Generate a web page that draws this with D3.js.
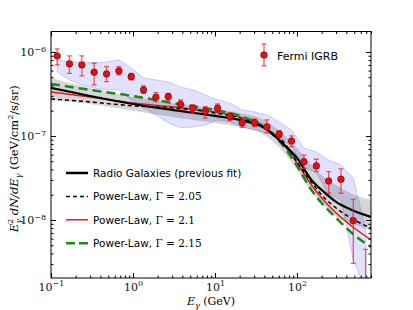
<!DOCTYPE html>
<html>
<head>
<meta charset="utf-8">
<script src="https://cdn.jsdelivr.net/npm/d3@7"></script>
<style>
  body { margin: 0; background: #fff; }
  .tick text { font-family: "DejaVu Serif", serif; }
</style>
</head>
<body>
<div class="chart"></div>
<script>
let svgWidth = 413;
let svgHeight = 310;

let margin = { top: 31.5, right: 42, bottom: 32, left: 51 };
let width = svgWidth - margin.left - margin.right;
let height = svgHeight - margin.top - margin.bottom;

// Fermi IGRB points
const igrbE = [0.119, 0.168, 0.238, 0.336, 0.476, 0.673, 0.951, 1.345, 1.902, 2.69, 3.80, 5.38, 7.61,
    10.76, 15.21, 21.5, 30.4, 43.0, 60.8, 86.0, 121.7, 172.1, 243.4, 344.2, 486.7, 688.3];
const igrbFlux = [8.96e-7, 7.20e-7, 7.0e-7, 5.73e-7, 5.47e-7, 5.94e-7, 5.08e-7, 3.53e-7, 2.89e-7, 2.94e-7,
    2.38e-7, 2.14e-7, 1.95e-7, 2.14e-7, 1.70e-7, 1.44e-7, 1.44e-7, 1.28e-7, 1.05e-7, 8.71e-8,
    4.94e-8, 4.40e-8, 2.91e-8, 3.05e-8, 9.8e-9, 1.5e-9];
const igrbHi = [1.086e-6, 8.96e-7, 8.96e-7, 7.33e-7, 6.68e-7, 6.68e-7, 5.57e-7, 3.94e-7, 3.28e-7, 3.22e-7,
    2.68e-7, 2.34e-7, 2.23e-7, 2.40e-7, 1.89e-7, 1.63e-7, 1.58e-7, 1.55e-7, 1.16e-7, 1.0e-7,
    5.94e-8, 5.28e-8, 3.76e-8, 4.05e-8, 1.76e-8, 4.48e-9];
const igrbLo = [7.0e-7, 5.57e-7, 5.18e-7, 4.05e-7, 4.43e-7, 5.32e-7, 4.64e-7, 3.22e-7, 2.56e-7, 2.68e-7,
    2.04e-7, 1.88e-7, 1.63e-7, 1.88e-7, 1.52e-7, 1.27e-7, 1.29e-7, 1.09e-7, 9.55e-8, 7.47e-8,
    4.12e-8, 3.76e-8, 2.08e-8, 2.08e-8, 3.05e-9, 1e-10];

// systematic band of the IGRB (blue)
const sysHi = [8.03e-7, 7.60e-7, 7.60e-7, 7.40e-7, 7.60e-7, 8.03e-7, 6.45e-7, 4.90e-7, 4.64e-7, 4.40e-7,
    3.83e-7, 3.53e-7, 3.08e-7, 2.68e-7, 2.47e-7, 2.04e-7, 1.93e-7, 1.78e-7, 1.47e-7, 1.18e-7,
    7.20e-8, 6.45e-8, 5.18e-8, 4.52e-8, 3.16e-8, 7.60e-9];
const sysLo = [5.78e-7, 4.64e-7, 4.05e-7, 3.73e-7, 3.53e-7, 3.53e-7, 2.68e-7, 2.16e-7, 1.78e-7, 1.43e-7,
    1.25e-7, 1.28e-7, 1.35e-7, 1.55e-7, 1.47e-7, 1.28e-7, 1.18e-7, 1.09e-7, 9.47e-8, 7.60e-8,
    4.16e-8, 3.73e-8, 1.99e-8, 1.73e-8, 3.34e-9, 1.5e-9];

// model curves
const modelE = [0.1, 0.3, 1, 3, 10, 20, 40, 70, 100, 150, 200, 300, 500, 800];
const radioGal = [3.73e-7, 2.99e-7, 2.40e-7, 2.04e-7, 1.73e-7, 1.55e-7, 1.25e-7, 7.82e-8, 5.47e-8, 2.99e-8, 2.28e-8, 1.64e-8, 1.28e-8, 1.09e-8];
const radioHi = [4.90e-7, 3.73e-7, 2.91e-7, 2.47e-7, 2.10e-7, 1.88e-7, 1.55e-7, 1.03e-7, 7.20e-8, 4.52e-8, 3.44e-8, 2.61e-8, 1.99e-8, 1.73e-8];
const radioLo = [2.68e-7, 2.40e-7, 1.99e-7, 1.68e-7, 1.43e-7, 1.28e-7, 1.03e-7, 6.28e-8, 3.94e-8, 2.16e-8, 1.59e-8, 1.09e-8, 8.71e-9, 7.60e-9];
const pl205 = [2.76e-7, 2.54e-7, 2.28e-7, 2.16e-7, 1.88e-7, 1.64e-7, 1.25e-7, 8.26e-8, 4.90e-8, 2.83e-8, 1.99e-8, 1.39e-8, 1.0e-8, 8.03e-9];
const pl21 = [3.34e-7, 2.91e-7, 2.47e-7, 2.22e-7, 1.93e-7, 1.68e-7, 1.28e-7, 7.82e-8, 4.77e-8, 2.61e-8, 1.83e-8, 1.21e-8, 8.03e-9, 5.78e-9];
const pl215 = [4.16e-7, 3.53e-7, 2.99e-7, 2.47e-7, 2.04e-7, 1.73e-7, 1.28e-7, 7.40e-8, 4.40e-8, 2.28e-8, 1.59e-8, 1.06e-8, 6.63e-9, 4.77e-9];

const xTicks = [0.1, 1, 10, 100];
const yTicks = [1e-8, 1e-7, 1e-6];

let svg = d3.select(".chart")
    .append("svg")
    .attr("width", svgWidth)
    .attr("height", svgHeight);

let x = d3.scaleLog().domain([0.1, 800]).range([margin.left, margin.left + width]);
let y = d3.scaleLog().domain([2.04e-9, 1.75e-6]).range([margin.top + height, margin.top]);

svg.append("clipPath").attr("id", "plotclip")
    .append("rect")
    .attr("x", margin.left).attr("y", margin.top)
    .attr("width", width).attr("height", height);

let plot = svg.append("g").attr("clip-path", "url(#plotclip)");

// blue systematics band
let igrbRows = igrbE.map((e, i) => ({ e: e, f: igrbFlux[i], hi: igrbHi[i], lo: igrbLo[i], sh: sysHi[i], sl: sysLo[i] }));
plot.append("path")
    .datum(igrbRows)
    .attr("fill", "rgba(110,110,255,0.2)")
    .attr("stroke", "rgba(90,90,255,0.35)")
    .attr("stroke-width", 0.8)
    .attr("d", d3.area().x(d => x(d.e)).y0(d => y(d.sl)).y1(d => y(d.sh)));

// gray band around radio galaxies
let modelRows = modelE.map((e, i) => ({ e: e, rg: radioGal[i], hi: radioHi[i], lo: radioLo[i], a: pl205[i], b: pl21[i], c: pl215[i] }));
plot.append("path")
    .datum(modelRows)
    .attr("fill", "rgba(0,0,0,0.16)")
    .attr("d", d3.area().curve(d3.curveMonotoneX).x(d => x(d.e)).y0(d => y(d.lo)).y1(d => y(d.hi)));

function modelLine(key) {
    return d3.line().curve(d3.curveMonotoneX).x(d => x(d.e)).y(d => y(d[key]));
}

plot.append("path").datum(modelRows)
    .attr("fill", "none").attr("stroke", "#e41a1c").attr("stroke-width", 1.5)
    .attr("d", modelLine("b"));

plot.append("path").datum(modelRows)
    .attr("fill", "none").attr("stroke", "#000").attr("stroke-width", 1.5)
    .attr("stroke-dasharray", "4,3")
    .attr("d", modelLine("a"));

plot.append("path").datum(modelRows)
    .attr("fill", "none").attr("stroke", "#1a8a1a").attr("stroke-width", 2.5)
    .attr("stroke-dasharray", "9,5")
    .attr("d", modelLine("c"));

plot.append("path").datum(modelRows)
    .attr("fill", "none").attr("stroke", "#000").attr("stroke-width", 2.2)
    .attr("d", modelLine("rg"));

// error bars
let errColor = "rgba(235,40,40,0.75)";
let bars = plot.append("g").selectAll("g")
    .data(igrbRows)
    .enter()
    .append("g");

bars.append("line")
    .attr("x1", d => x(d.e)).attr("x2", d => x(d.e))
    .attr("y1", d => y(d.hi)).attr("y2", d => y(d.lo))
    .attr("stroke", errColor).attr("stroke-width", 1.3);

bars.append("line")
    .attr("x1", d => x(d.e) - 2.5).attr("x2", d => x(d.e) + 2.5)
    .attr("y1", d => y(d.hi)).attr("y2", d => y(d.hi))
    .attr("stroke", errColor).attr("stroke-width", 1.3);

bars.append("line")
    .attr("x1", d => x(d.e) - 2.5).attr("x2", d => x(d.e) + 2.5)
    .attr("y1", d => y(d.lo)).attr("y2", d => y(d.lo))
    .attr("stroke", errColor).attr("stroke-width", 1.3);

bars.append("circle")
    .attr("cx", d => x(d.e)).attr("cy", d => y(d.f))
    .attr("r", 3.3)
    .attr("fill", "#e41010")
    .attr("stroke", "#600").attr("stroke-width", 0.6);

// axes: major + minor ticks inward on all four sides
function supLabels(sel) {
    sel.selectAll(".tick text").each(function (d) {
        let t = d3.select(this);
        let p = Math.round(Math.log10(d));
        t.text("10");
        t.append("tspan").attr("dy", "-0.55em").attr("font-size", "8px")
            .text(p < 0 ? "\u2212" + (-p) : String(p));
    });
}

let xMinor = x.ticks().filter(v => xTicks.indexOf(v) < 0);
let yMinor = y.ticks().filter(v => yTicks.indexOf(v) < 0);

let bottomAxis = svg.append("g")
    .attr("transform", `translate(0, ${margin.top + height})`)
    .call(d3.axisBottom(x).tickValues(xTicks).tickSizeInner(-5).tickSizeOuter(0).tickPadding(5));
supLabels(bottomAxis);
svg.append("g")
    .attr("transform", `translate(0, ${margin.top + height})`)
    .call(d3.axisBottom(x).tickValues(xMinor).tickSizeInner(-2.5).tickSizeOuter(0).tickFormat(""));

svg.append("g")
    .attr("transform", `translate(0, ${margin.top})`)
    .call(d3.axisTop(x).tickValues(xTicks).tickSizeInner(-5).tickSizeOuter(0).tickFormat(""));
svg.append("g")
    .attr("transform", `translate(0, ${margin.top})`)
    .call(d3.axisTop(x).tickValues(xMinor).tickSizeInner(-2.5).tickSizeOuter(0).tickFormat(""));

let leftAxis = svg.append("g")
    .attr("transform", `translate(${margin.left}, 0)`)
    .call(d3.axisLeft(y).tickValues(yTicks).tickSizeInner(-5).tickSizeOuter(0).tickPadding(5));
supLabels(leftAxis);
svg.append("g")
    .attr("transform", `translate(${margin.left}, 0)`)
    .call(d3.axisLeft(y).tickValues(yMinor).tickSizeInner(-2.5).tickSizeOuter(0).tickFormat(""));

svg.append("g")
    .attr("transform", `translate(${margin.left + width}, 0)`)
    .call(d3.axisRight(y).tickValues(yTicks).tickSizeInner(-5).tickSizeOuter(0).tickFormat(""));
svg.append("g")
    .attr("transform", `translate(${margin.left + width}, 0)`)
    .call(d3.axisRight(y).tickValues(yMinor).tickSizeInner(-2.5).tickSizeOuter(0).tickFormat(""));

svg.selectAll(".domain").remove();
svg.selectAll(".tick text").attr("font-size", 11).attr("fill", "#111");

svg.append("rect")
    .attr("x", margin.left).attr("y", margin.top)
    .attr("width", width).attr("height", height)
    .attr("fill", "none").attr("stroke", "#000").attr("stroke-width", 1);

// axis labels
let serif = "'DejaVu Serif', serif";
let xl = svg.append("text")
    .attr("x", margin.left + width / 2).attr("y", 305)
    .attr("text-anchor", "middle")
    .attr("font-family", serif).attr("font-size", 11);
xl.append("tspan").attr("font-style", "italic").text("E");
xl.append("tspan").attr("font-size", 8).attr("dy", 3).attr("font-style", "italic").text("\u03b3");
xl.append("tspan").attr("dy", -3).text(" (GeV)");

let yl = svg.append("text")
    .attr("transform", `translate(18, ${margin.top + height / 2 + 4}) rotate(-90)`)
    .attr("text-anchor", "middle")
    .attr("font-family", serif).attr("font-size", 11.5);
yl.append("tspan").attr("font-style", "italic").text("E");
yl.append("tspan").attr("font-size", 8).attr("dy", -5).text("2");
yl.append("tspan").attr("font-size", 8).attr("dx", -5).attr("dy", 8).attr("font-style", "italic").text("\u03b3");
yl.append("tspan").attr("dy", -3).attr("font-style", "italic").text(" dN/dE");
yl.append("tspan").attr("font-size", 8).attr("dy", 3).attr("font-style", "italic").text("\u03b3");
yl.append("tspan").attr("dy", -3).text(" (GeV/cm");
yl.append("tspan").attr("font-size", 8).attr("dy", -5).text("2");
yl.append("tspan").attr("dy", 5).text("/s/sr)");

// legend: Fermi IGRB
let sans = "'DejaVu Sans', sans-serif";
let lg1 = svg.append("g");
lg1.append("line").attr("x1", 264).attr("x2", 264).attr("y1", 44).attr("y2", 66)
    .attr("stroke", errColor).attr("stroke-width", 1.3);
lg1.append("line").attr("x1", 261.5).attr("x2", 266.5).attr("y1", 44).attr("y2", 44)
    .attr("stroke", errColor).attr("stroke-width", 1.3);
lg1.append("line").attr("x1", 261.5).attr("x2", 266.5).attr("y1", 66).attr("y2", 66)
    .attr("stroke", errColor).attr("stroke-width", 1.3);
lg1.append("circle").attr("cx", 264).attr("cy", 55).attr("r", 3.3)
    .attr("fill", "#e41010").attr("stroke", "#600").attr("stroke-width", 0.6);
lg1.append("text").attr("x", 277).attr("y", 59.5)
    .attr("font-family", sans).attr("font-size", 11).text("Fermi IGRB");

// legend: models
const legendNames = ["Radio Galaxies (previous fit)", "Power-Law, ", "Power-Law, ", "Power-Law, "];
const legendGamma = ["", "2.05", "2.1", "2.15"];
const legendStyles = [
    { c: "#000", w: 2.5, d: null },
    { c: "#000", w: 1.5, d: "4,3" },
    { c: "#e41a1c", w: 1.5, d: null },
    { c: "#1a8a1a", w: 2.5, d: "9,4" }
];
legendNames.forEach((name, i) => {
    let yy = 173 + i * 23.4;
    let s = legendStyles[i];
    svg.append("line")
        .attr("x1", 66).attr("x2", 88).attr("y1", yy).attr("y2", yy)
        .attr("stroke", s.c).attr("stroke-width", s.w)
        .attr("stroke-dasharray", s.d);
    let t = svg.append("text").attr("x", 93).attr("y", yy + 4)
        .attr("font-family", sans).attr("font-size", 10.5).text(name);
    if (legendGamma[i]) {
        t.append("tspan").attr("font-family", serif).text("\u0393 = " + legendGamma[i]);
    }
});
</script>
</body>
</html>
